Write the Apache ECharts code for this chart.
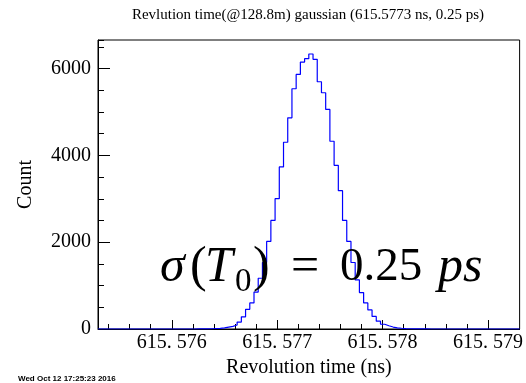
<!DOCTYPE html>
<html>
<head>
<meta charset="utf-8">
<script src="https://cdn.jsdelivr.net/npm/echarts@6/dist/echarts.min.js"></script>
<style>
html,body{margin:0;padding:0;background:#fff;}
#c{width:526px;height:383px;}
</style>
</head>
<body>
<div id="c"></div>
<script>
// ---- data ----
const titleText = 'Revlution time(@128.8m) gaussian (615.5773 ns, 0.25 ps)';
const xTitle = 'Revolution time (ns)';
const yTitle = 'Count';
const dateText = 'Wed Oct 12 17:25:23 2016';
const binStart = 615.5753;   // ns, lower edge of first bin
const binWidth = 0.00004;    // ns
const xMax = 615.5793;
const yMax = 6660;
const counts = [
  0,0,0,0,0,0,0,0,0,0,
  0,0,0,0,0,0,0,0,0,0,
  0,0,0,1,2,3,6,11,16,27,
  44,60,92,160,280,454,600,850,1170,1532,
  2018,2503,3003,3735,4304,4866,5536,5867,6152,6229,
  6337,6214,5698,5444,5059,4327,3773,3188,2503,2018,
  1532,1130,840,600,440,290,180,110,75,45,
  28,17,10,6,3,2,1,1,0,0,
  0,0,0,0,0,0,0,0,0,0,
  0,0,0,0,0,0,0,0,0,0
];
const xMajorTicks = [615.576, 615.577, 615.578, 615.579];
const yMajorTicks = [0, 2000, 4000, 6000];

// ---- build ----
const lineData = counts.map((c, i) => [binStart + i * binWidth, c]);
lineData.push([binStart + counts.length * binWidth, counts[counts.length - 1]]);

const xMinorTicks = [];
for (let k = 1; k * 0.0002 < 0.004; k++) {
  xMinorTicks.push(Math.round((615.5752 + k * 0.0002) * 1e5) / 1e5);
}

const serif = 'Liberation Serif';
const chart = echarts.init(document.getElementById('c'), null, {renderer: 'canvas'});
chart.setOption({
  animation: false,
  backgroundColor: '#fff',
  grid: {left: 98, top: 40, right: 3, bottom: 54, show: true, borderColor: '#000', borderWidth: 1, backgroundColor: 'transparent'},
  xAxis: [{
    type: 'value', min: binStart, max: xMax, position: 'bottom',
    name: xTitle, nameLocation: 'middle', nameGap: 27,
    nameTextStyle: {fontFamily: serif, fontSize: 20, color: '#000'},
    axisLine: {show: true, lineStyle: {color: '#000', width: 1}},
    axisTick: {show: true, inside: true, length: 9, customValues: xMajorTicks, lineStyle: {color: '#000'}},
    axisLabel: {show: true, customValues: xMajorTicks, margin: 4, fontFamily: serif, fontSize: 20, color: '#000',
      formatter: v => v.toFixed(3).replace('.', '. ')},
    splitLine: {show: false}
  }, {
    type: 'value', min: binStart, max: xMax, position: 'bottom', gridIndex: 0,
    axisLine: {show: false},
    axisTick: {show: true, inside: true, length: 5, customValues: xMinorTicks, lineStyle: {color: '#000'}},
    axisLabel: {show: false},
    splitLine: {show: false}
  }],
  yAxis: [{
    type: 'value', min: 0, max: yMax, position: 'left',
    name: yTitle, nameLocation: 'middle', nameGap: 62, nameRotate: 90,
    nameTextStyle: {fontFamily: serif, fontSize: 20, color: '#000'},
    axisLine: {show: true, lineStyle: {color: '#000', width: 1}},
    axisTick: {show: true, inside: true, length: 12, customValues: yMajorTicks, lineStyle: {color: '#000'}},
    axisLabel: {show: true, customValues: yMajorTicks, margin: 7, fontFamily: serif, fontSize: 20, color: '#000',
      formatter: v => String(Math.round(v))},
    splitLine: {show: false}
  }, {
    type: 'value', min: 0, max: yMax, interval: 500, position: 'left', offset: 0,
    axisLine: {show: false},
    axisTick: {show: true, inside: true, length: 6, lineStyle: {color: '#000'}},
    axisLabel: {show: false},
    splitLine: {show: false}
  }],
  series: [{
    type: 'line', step: 'end', data: lineData, xAxisIndex: 0, yAxisIndex: 0,
    showSymbol: false, symbol: 'none',
    lineStyle: {color: '#0000ff', width: 1.2},
    z: 1
  }],
  graphic: [
    {type: 'text', x: 308, y: 15, style: {text: titleText, fontFamily: serif, fontSize: 15, fill: '#000', align: 'center', verticalAlign: 'middle'}},
    {type: 'text', x: 18, y: 379, style: {text: dateText, fontFamily: 'Liberation Sans', fontWeight: 'bold', fontSize: 8, fill: '#000', align: 'left', verticalAlign: 'middle'}},
    {type: 'text', x: 160, y: 268, z: 10, style: {text: 'σ', fontFamily: serif, fontStyle: 'italic', fontSize: 50, fill: '#000', verticalAlign: 'middle'}},
    {type: 'text', x: 190, y: 268, z: 10, style: {text: '(', fontFamily: serif, fontSize: 50, fill: '#000', verticalAlign: 'middle'}},
    {type: 'text', x: 205, y: 268, z: 10, style: {text: 'T', fontFamily: serif, fontStyle: 'italic', fontSize: 50, fill: '#000', verticalAlign: 'middle'}},
    {type: 'text', x: 235, y: 282, z: 10, style: {text: '0', fontFamily: serif, fontSize: 33, fill: '#000', verticalAlign: 'middle'}},
    {type: 'text', x: 253, y: 268, z: 10, style: {text: ')', fontFamily: serif, fontSize: 50, fill: '#000', verticalAlign: 'middle'}},
    {type: 'text', x: 291, y: 268, z: 10, style: {text: '=', fontFamily: serif, fontSize: 50, fill: '#000', verticalAlign: 'middle'}},
    {type: 'text', x: 340, y: 268, z: 10, style: {text: '0.25', fontFamily: serif, fontSize: 47, fill: '#000', verticalAlign: 'middle'}},
    {type: 'text', x: 438, y: 268, z: 10, style: {text: 'ps', fontFamily: serif, fontStyle: 'italic', fontSize: 50, fill: '#000', verticalAlign: 'middle'}}
  ]
});
</script>
</body>
</html>
